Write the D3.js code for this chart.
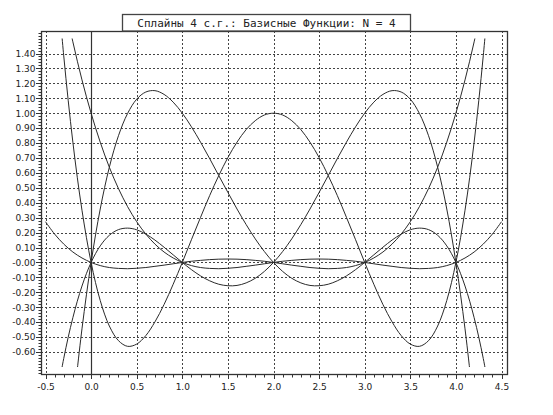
<!DOCTYPE html>
<html>
<head>
<meta charset="utf-8">
<script src="https://cdn.jsdelivr.net/npm/d3@7"></script>
<style>
  html, body { margin: 0; padding: 0; background: #fff; }
  svg { display: block; }
</style>
</head>
<body>
<svg id="chart" width="553" height="415"></svg>
<script>
// ---------- data ----------
const titleText = "Сплайны 4 с.г.: Базисные Функции: N = 4";

const xValues = [-0.5,-0.4,-0.3,-0.2,-0.1,0.0,0.1,0.2,0.3,0.4,0.5,0.6,0.7,0.8,0.9,1.0,
  1.1,1.2,1.3,1.4,1.5,1.6,1.7,1.8,1.9,2.0,2.1,2.2,2.3,2.4,2.5,2.6,2.7,2.8,2.9,3.0,
  3.1,3.2,3.3,3.4,3.5,3.6,3.7,3.8,3.9,4.0,4.1,4.2,4.3,4.4,4.5];

const basis0 = [null,null,1.768,1.478,1.223,1.000,0.806,0.638,0.495,0.374,0.273,0.190,0.123,0.070,0.030,0.000,
  -0.021,-0.034,-0.040,-0.042,-0.039,-0.034,-0.026,-0.018,-0.009,0.000,0.008,0.014,0.019,0.022,0.023,0.022,0.019,0.014,0.008,0.000,
  -0.009,-0.018,-0.026,-0.034,-0.039,-0.042,-0.040,-0.034,-0.021,0.000,0.030,0.070,0.123,0.190,0.273];

const basis1 = [null,null,null,-0.986,-0.445,0.000,0.358,0.638,0.849,0.998,1.094,1.142,1.151,1.126,1.074,1.000,
  0.909,0.806,0.696,0.582,0.469,0.358,0.254,0.158,0.073,0.000,-0.060,-0.106,-0.137,-0.154,-0.156,-0.146,-0.123,-0.090,-0.048,0.000,
  0.051,0.102,0.150,0.190,0.219,0.230,0.220,0.182,0.111,0.000,-0.158,-0.370,-0.643,-0.986,null];

const basis2 = [null,2.094,1.384,0.806,0.350,0.000,-0.255,-0.426,-0.524,-0.562,-0.547,-0.490,-0.398,-0.282,-0.146,0.000,
  0.152,0.302,0.448,0.582,0.703,0.806,0.890,0.950,0.988,1.000,0.988,0.950,0.890,0.806,0.703,0.582,0.448,0.302,0.152,0.000,
  -0.146,-0.282,-0.398,-0.490,-0.547,-0.562,-0.524,-0.426,-0.255,0.000,0.350,0.806,1.384,2.094,null];

const basis3 = [null,-0.986,-0.643,-0.370,-0.158,0.000,0.111,0.182,0.220,0.230,0.219,0.190,0.150,0.102,0.051,0.000,
  -0.048,-0.090,-0.123,-0.146,-0.156,-0.154,-0.137,-0.106,-0.060,0.000,0.073,0.158,0.254,0.358,0.469,0.582,0.696,0.806,0.909,1.000,
  1.074,1.126,1.151,1.142,1.094,0.998,0.849,0.638,0.358,0.000,-0.445,-0.986,null,null,null];

const basis4 = [0.273,0.190,0.123,0.070,0.030,0.000,-0.021,-0.034,-0.040,-0.042,-0.039,-0.034,-0.026,-0.018,-0.009,0.000,
  0.008,0.014,0.019,0.022,0.023,0.022,0.019,0.014,0.008,0.000,-0.009,-0.018,-0.026,-0.034,-0.039,-0.042,-0.040,-0.034,-0.021,0.000,
  0.030,0.070,0.123,0.190,0.273,0.374,0.495,0.638,0.806,1.000,1.223,1.478,1.768,null,null];

const seriesList = [basis0, basis1, basis2, basis3, basis4];

const xTickValues = [-0.5,0.0,0.5,1.0,1.5,2.0,2.5,3.0,3.5,4.0,4.5];
const xTickLabels = ["-0.5","0.0","0.5","1.0","1.5","2.0","2.5","3.0","3.5","4.0","4.5"];
const yTickValues = [-0.6,-0.5,-0.4,-0.3,-0.2,-0.1,0.0,0.1,0.2,0.3,0.4,0.5,0.6,0.7,0.8,0.9,1.0,1.1,1.2,1.3,1.4];
const yTickLabels = ["-0.60","-0.50","-0.40","-0.30","-0.20","-0.10","-0.00","0.10","0.20","0.30","0.40",
  "0.50","0.60","0.70","0.80","0.90","1.00","1.10","1.20","1.30","1.40"];
const clipRange = [-0.7, 1.5];

// ---------- layout ----------
const frame = { left: 41, right: 508, top: 31, bottom: 375 };
const x = d3.scaleLinear().domain([-0.5, 4.5]).range([45.5, 501.5]);
const y = d3.scaleLinear().domain([-0.6, 1.4]).range([352, 53.5]);
const xFrame = [x.invert(frame.left), x.invert(frame.right)];
const yFrame = [y.invert(frame.bottom), y.invert(frame.top)];

const svg = d3.select("#chart");
const ink = "#2a2a2a";
const fontSans = "'DejaVu Sans', sans-serif";

// grid lines
const grid = svg.append("g");
grid.selectAll("line.hg").data(yTickValues).join("line")
  .attr("x1", frame.left).attr("x2", frame.right)
  .attr("y1", d => Math.round(y(d)) + 0.5).attr("y2", d => Math.round(y(d)) + 0.5)
  .attr("stroke", "#444").attr("stroke-width", 1).attr("stroke-dasharray", "2,2");
grid.selectAll("line.vg").data(xTickValues.filter(d => d !== 0)).join("line")
  .attr("x1", d => Math.round(x(d)) + 0.5).attr("x2", d => Math.round(x(d)) + 0.5)
  .attr("y1", frame.top).attr("y2", frame.bottom)
  .attr("stroke", "#444").attr("stroke-width", 1).attr("stroke-dasharray", "2,2");

// zero line (solid)
svg.append("line")
  .attr("x1", Math.round(x(0)) + 0.5).attr("x2", Math.round(x(0)) + 0.5)
  .attr("y1", frame.top).attr("y2", frame.bottom)
  .attr("stroke", "#333").attr("stroke-width", 1.2);

// curves
svg.append("clipPath").attr("id", "clipCurves").append("rect")
  .attr("x", frame.left).attr("width", frame.right - frame.left)
  .attr("y", y(clipRange[1])).attr("height", y(clipRange[0]) - y(clipRange[1]));

const line = d3.line()
  .defined(d => d[1] !== null)
  .x(d => x(d[0])).y(d => y(d[1]))
  .curve(d3.curveCatmullRom.alpha(0.5));

svg.append("g").attr("clip-path", "url(#clipCurves)")
  .selectAll("path").data(seriesList).join("path")
  .attr("d", s => line(xValues.map((xv, i) => [xv, s[i]])))
  .attr("fill", "none").attr("stroke", ink).attr("stroke-width", 1);

// frame
svg.append("rect")
  .attr("x", frame.left + 0.5).attr("y", frame.top + 0.5)
  .attr("width", frame.right - frame.left - 1).attr("height", frame.bottom - frame.top - 1)
  .attr("fill", "none").attr("stroke", "#333").attr("stroke-width", 1.3);

// y axis ticks
const yMinor = d3.range(Math.ceil(yFrame[0] * 50), Math.floor(yFrame[1] * 50) + 1).map(k => k / 50);
svg.append("g").selectAll("line").data(yMinor).join("line")
  .attr("x1", frame.left - 2.5).attr("x2", frame.left)
  .attr("y1", d => Math.round(y(d)) + 0.5).attr("y2", d => Math.round(y(d)) + 0.5)
  .attr("stroke", "#333").attr("stroke-width", 1);
svg.append("g").selectAll("line").data(yTickValues).join("line")
  .attr("x1", frame.left - 5).attr("x2", frame.left)
  .attr("y1", d => Math.round(y(d)) + 0.5).attr("y2", d => Math.round(y(d)) + 0.5)
  .attr("stroke", "#333").attr("stroke-width", 1);
svg.append("g").selectAll("text").data(yTickValues).join("text")
  .attr("x", frame.left - 5.5).attr("y", d => y(d) + 3.3)
  .attr("text-anchor", "end")
  .attr("font-family", fontSans).attr("font-size", 9).attr("fill", "#222")
  .text((d, i) => yTickLabels[i]);

// x axis ticks
const xMinor = d3.range(Math.ceil(xFrame[0] * 10), Math.floor(xFrame[1] * 10) + 1).map(k => k / 10);
svg.append("g").selectAll("line").data(xMinor).join("line")
  .attr("x1", d => Math.round(x(d)) + 0.5).attr("x2", d => Math.round(x(d)) + 0.5)
  .attr("y1", frame.bottom).attr("y2", frame.bottom + 2.5)
  .attr("stroke", "#333").attr("stroke-width", 1);
svg.append("g").selectAll("line").data(xTickValues).join("line")
  .attr("x1", d => Math.round(x(d)) + 0.5).attr("x2", d => Math.round(x(d)) + 0.5)
  .attr("y1", frame.bottom).attr("y2", frame.bottom + 4)
  .attr("stroke", "#333").attr("stroke-width", 1);
svg.append("g").selectAll("text").data(xTickValues).join("text")
  .attr("x", d => x(d) + 0.5).attr("y", 389.5)
  .attr("text-anchor", "middle")
  .attr("font-family", fontSans).attr("font-size", 9).attr("fill", "#222")
  .text((d, i) => xTickLabels[i]);

// title box
svg.append("rect")
  .attr("x", 122.5).attr("y", 14.5).attr("width", 288).attr("height", 16.5)
  .attr("fill", "#fff").attr("stroke", "#444").attr("stroke-width", 1.3);
svg.append("text")
  .attr("x", 266.5).attr("y", 26.5).attr("text-anchor", "middle")
  .attr("font-family", "'DejaVu Sans Mono', monospace").attr("font-size", 11).attr("fill", "#222")
  .text(titleText);
</script>
</body>
</html>
